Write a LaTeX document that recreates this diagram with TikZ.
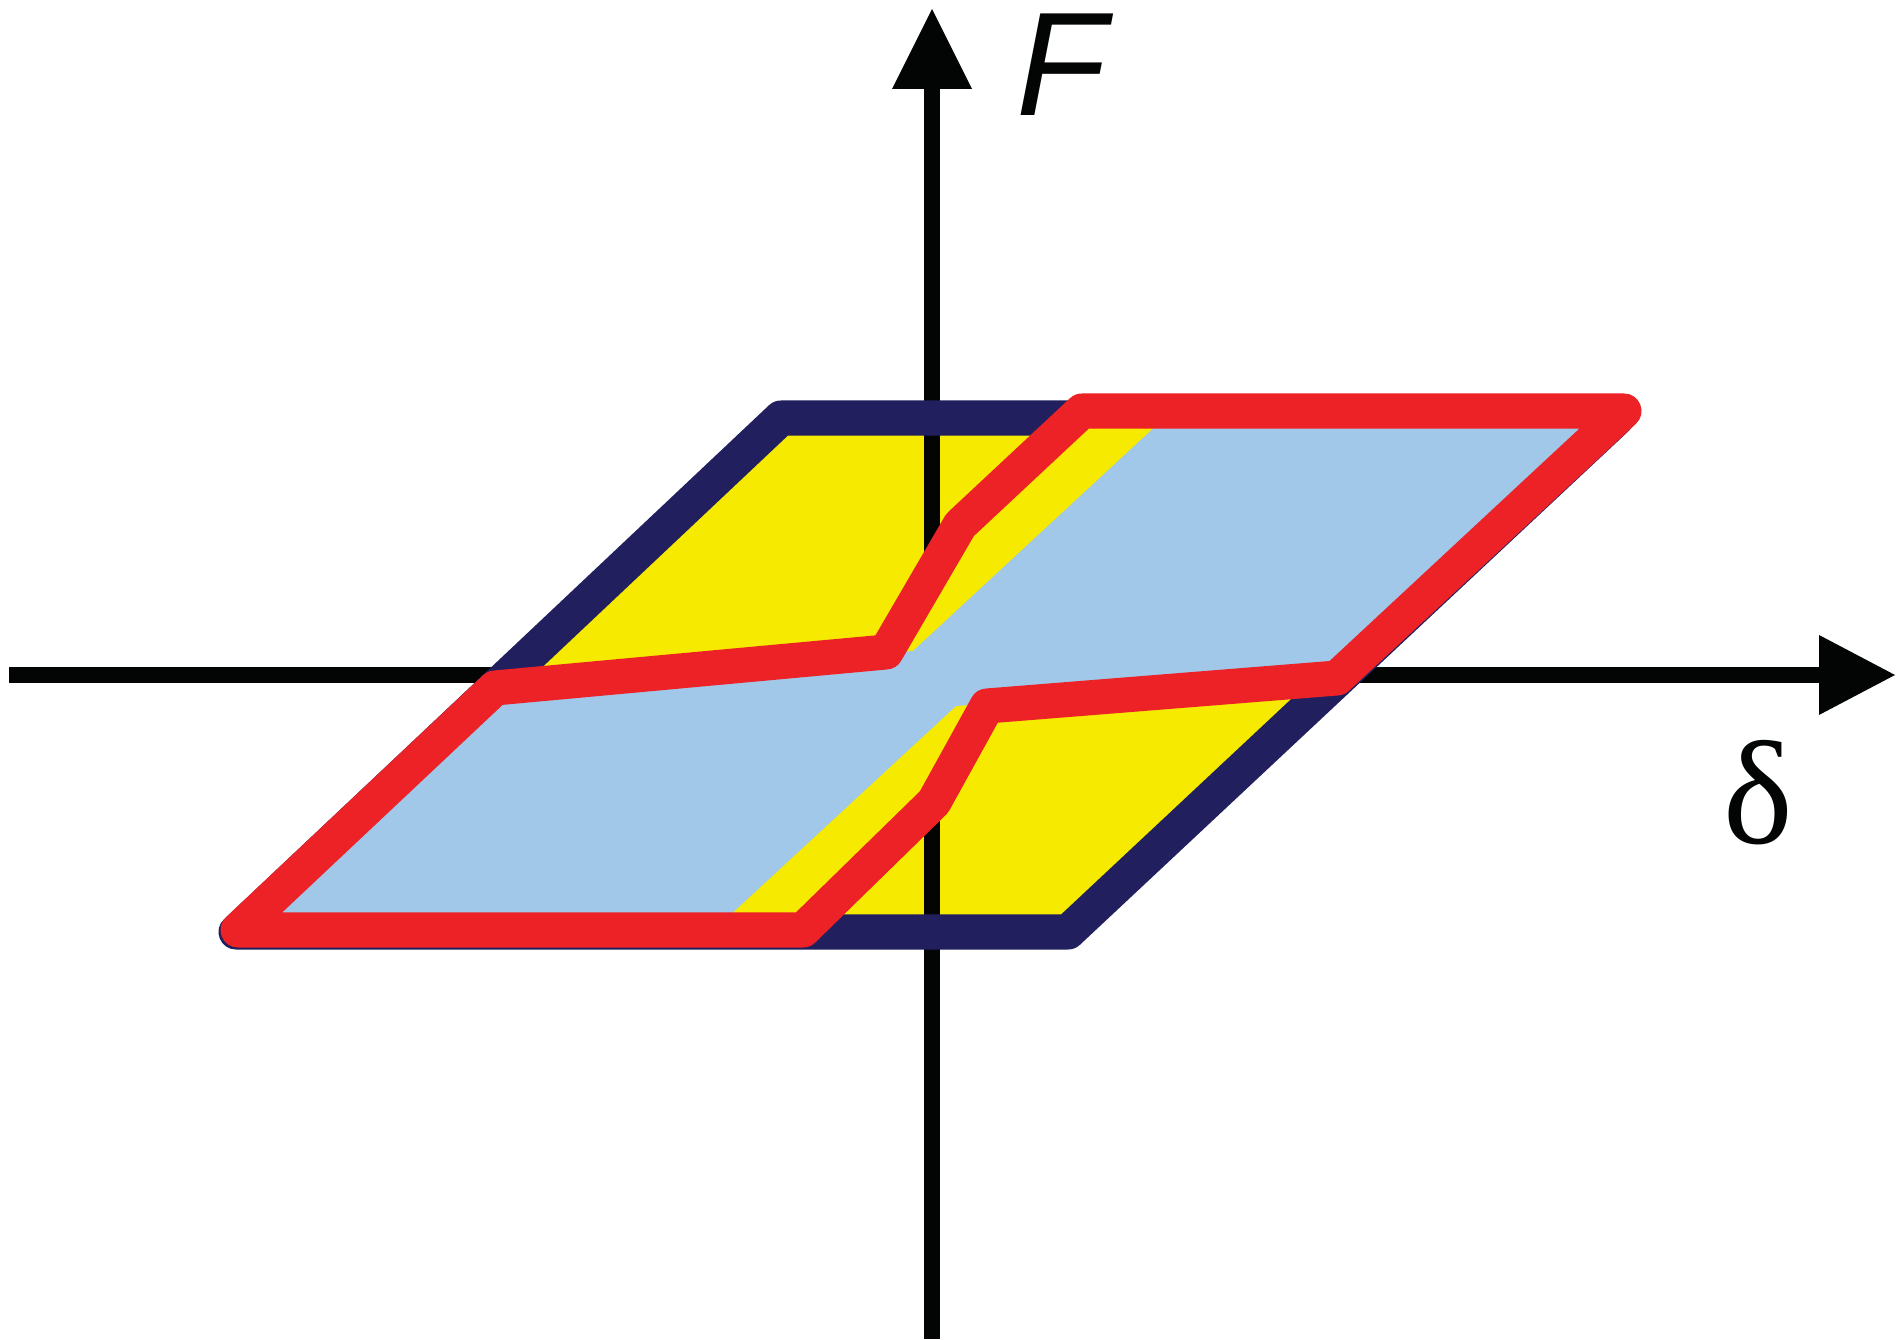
\documentclass[tikz,border=0pt]{standalone}
\usepackage{fontspec}
\newfontfamily\labsans{Liberation Sans}
\newfontfamily\labserif{Liberation Serif}
\definecolor{navyc}{RGB}{33,31,94}
\definecolor{redc}{RGB}{236,34,39}
\definecolor{yelc}{RGB}{245,234,0}
\definecolor{bluec}{RGB}{161,199,233}
\definecolor{axc}{RGB}{3,5,4}
\begin{document}
\begin{tikzpicture}[x=0.01cm,y=-0.01cm,
  axisline/.style={draw=axc, line width=0.16cm},
  tiphead/.style={fill=axc},
  outerloop/.style={draw=navyc, line width=0.35cm, line join=round},
  innerloop/.style={draw=redc, line width=0.35cm, line join=round},
  lbl/.style={inner sep=0pt, text=axc, font=\fontsize{42}{50}\selectfont}]
\useasboundingbox (0,0) rectangle (1896,1340);
% outer loop (navy parallelogram)
\coordinate (TL) at (781,418);
\coordinate (TR) at (1617,418);
\coordinate (BR) at (1068,932);
\coordinate (BL) at (236,932);
% inner loop (red)
\coordinate (A) at (1082,411);
\coordinate (B) at (1624,411);
\coordinate (C) at (1337,678);
\coordinate (D) at (987,706);
\coordinate (E) at (934,802);
\coordinate (F) at (803,930);
\coordinate (G) at (238,930);
\coordinate (H) at (495,688);
\coordinate (I) at (886,652);
\coordinate (J) at (960,525);
% blue region
\coordinate (P1) at (1172,411);
\coordinate (P4) at (956,706);
\coordinate (P5) at (714,930);
\coordinate (P8) at (913,651);
% axes
\coordinate (xstart) at (9,675);
\coordinate (xbase) at (1819,675);
\coordinate (xtip) at (1895,675);
\coordinate (xb1) at (1819,635);
\coordinate (xb2) at (1819,715);
\coordinate (ystart) at (932,1339);
\coordinate (ybase) at (932,89);
\coordinate (ytip) at (932,9);
\coordinate (yb1) at (892,89);
\coordinate (yb2) at (972,89);

% yellow fill of outer loop
\fill[yelc] (TL) -- (TR) -- (BR) -- (BL) -- cycle;
% axes
\draw[axisline] (xstart) -- (xbase);
\draw[axisline] (ystart) -- (ybase);
\fill[tiphead] (xtip) -- (xb1) -- (xb2) -- cycle;
\fill[tiphead] (ytip) -- (yb1) -- (yb2) -- cycle;
% outer loop stroke
\draw[outerloop] (TL) -- (TR) -- (BR) -- (BL) -- cycle;
% yellow inside inner loop (covers axes)
\fill[yelc] (A) -- (B) -- (C) -- (D) -- (E) -- (F) -- (G) -- (H) -- (I) -- (J) -- cycle;
% blue region
\fill[bluec] (P1) -- (B) -- (C) -- (P4) -- (P5) -- (G) -- (H) -- (P8) -- cycle;
% inner loop stroke
\draw[innerloop] (A) -- (B) -- (C) -- (D) -- (E) -- (F) -- (G) -- (H) -- (I) -- (J) -- cycle;
% labels
\node[lbl] (flabel) at (1062,65) {\labsans\itshape F};
\node[lbl] (dlabel) at (1758,793) {\labserif δ};
\end{tikzpicture}
\end{document}
